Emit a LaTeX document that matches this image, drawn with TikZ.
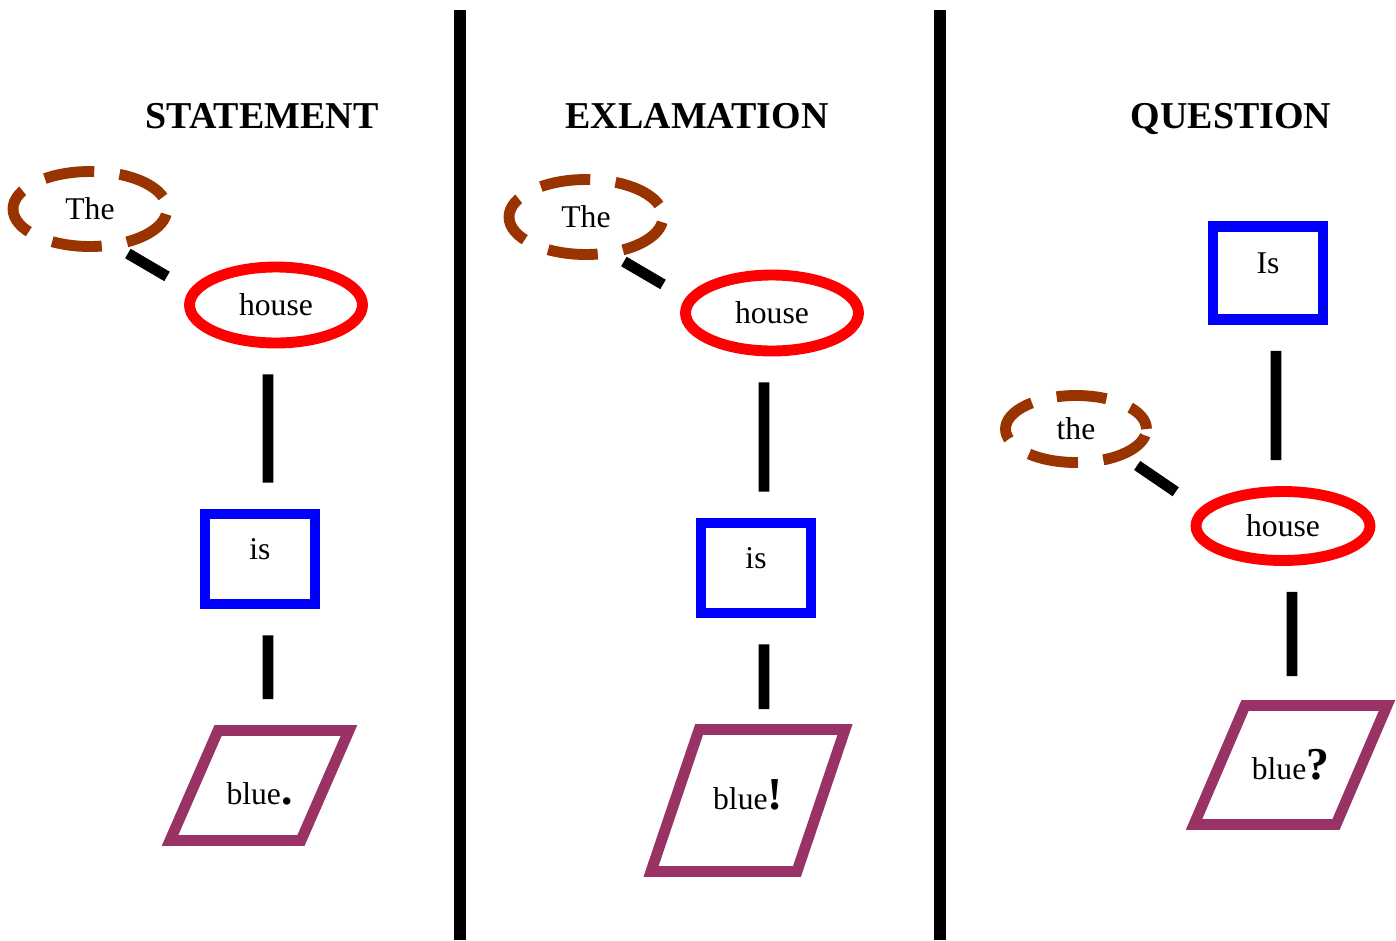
\documentclass[tikz,border=0pt]{standalone}
\usepackage{fontspec}
\setmainfont{Liberation Serif}
\usepackage{tikz}
\usetikzlibrary{shapes.geometric}
\definecolor{detbrown}{RGB}{153,51,0}
\definecolor{verbblue}{RGB}{0,0,255}
\definecolor{adjpurple}{RGB}{153,51,102}
\tikzset{
  sentence type/.style={
    font=\fontsize{21.6}{24}\selectfont\bfseries,
    text depth=0pt,
  },
  det word/.style={
    ellipse,
    draw=detbrown,
    line width=6.2pt,
    dash pattern=on 28.5pt off 14.5pt,
    dash phase=35.7pt,
    minimum width=3.08cm,
    minimum height=1.5cm,
    font=\fontsize{18}{20}\selectfont,
  },
  noun word/.style={
    ellipse,
    draw=red,
    line width=6.2pt,
    minimum width=3.46cm,
    minimum height=1.52cm,
    font=\fontsize{18}{20}\selectfont,
  },
  verb word/.style={
    rectangle,
    draw=verbblue,
    line width=6.2pt,
    minimum width=2.2cm,
    minimum height=1.8cm,
    text height=0.4cm,
    text depth=0.4cm,
    font=\fontsize{18}{20}\selectfont,
  },
  adj word/.style={
    trapezium,
    trapezium stretches body,
    draw=adjpurple,
    line width=6.2pt,
    inner ysep=0pt,
    font=\fontsize{18}{20}\selectfont,
  },
  word link/.style={line width=6.2pt, shorten <=0.52cm, shorten >=0.52cm},
  det link/.style={line width=6.2pt},
  divider/.style={line width=6.8pt},
}
\newcommand{\punct}[1]{{\fontsize{26}{26}\selectfont\bfseries #1}}

\begin{document}
\begin{tikzpicture}[x=0.02cm, y=-0.02cm]
  \useasboundingbox (0,0) rectangle (1396,940);

  % statement
  \node[sentence type] (title1) at (262,116) {STATEMENT};
  \node[det word] (the1) at (90,209) {The};
  \node[noun word] (house1) at (276,305) {house};
  \node[verb word] (is1) at (260,559) {is};
  \node[adj word, trapezium left angle=66.4, trapezium right angle=113.6,
        minimum width=3.58cm, minimum height=2.2cm,
        text height=1.47cm, text depth=0.73cm]
        (blue1) at (259.5,785.5) {blue\punct{.}};
  \draw[det link, shorten <=0.18cm, shorten >=0.53cm] (the1.-53) -- (house1.170);
  \draw[word link] ([xshift=-0.16cm]house1.south) -- ([xshift=0.16cm]is1.north);
  \draw[word link] ([xshift=0.16cm]is1.south) -- ([xshift=0.17cm]blue1.north);

  \draw[divider] (460,10) -- (460,940);

  % exclamation
  \node[sentence type] (title2) at (697,116) {EXLAMATION};
  \node[det word] (the2) at (586,217) {The};
  \node[noun word] (house2) at (772,313) {house};
  \node[verb word] (is2) at (756,568) {is};
  \node[adj word, trapezium left angle=71.3, trapezium right angle=108.7,
        minimum width=3.88cm, minimum height=2.84cm,
        text height=1.59cm, text depth=1.25cm]
        (blue2) at (748,800.5) {blue\punct{!}};
  \draw[det link, shorten <=0.18cm, shorten >=0.53cm] (the2.-53) -- (house2.170);
  \draw[word link] ([xshift=-0.16cm]house2.south) -- ([xshift=0.16cm]is2.north);
  \draw[word link, shorten >=0.3cm] ([xshift=0.16cm]is2.south) -- ([xshift=0.32cm]blue2.north);

  \draw[divider] (940,10) -- (940,940);

  % question
  \node[sentence type] (title3) at (1231,116) {QUESTION};
  \node[verb word, minimum height=1.86cm] (is3) at (1268,273) {Is};
  \node[det word, minimum width=2.82cm, minimum height=1.34cm, dash phase=12.5pt] (the3) at (1076,429) {the};
  \node[noun word, minimum width=3.48cm, minimum height=1.38cm] (house3) at (1283,526) {house};
  \node[adj word, trapezium left angle=66.8, trapezium right angle=113.2,
        minimum width=3.86cm, minimum height=2.38cm,
        text height=1.47cm, text depth=0.91cm]
        (blue3) at (1290.5,765) {blue\punct{?}};
  \draw[word link] ([xshift=0.16cm]is3.south) -- ([xshift=-0.14cm]house3.north);
  \draw[det link, shorten <=0.26cm, shorten >=0.59cm] (the3.-30) -- (house3.168);
  \draw[word link, shorten >=0.48cm] ([xshift=0.18cm]house3.south) -- ([xshift=0.03cm]blue3.north);
\end{tikzpicture}
\end{document}
